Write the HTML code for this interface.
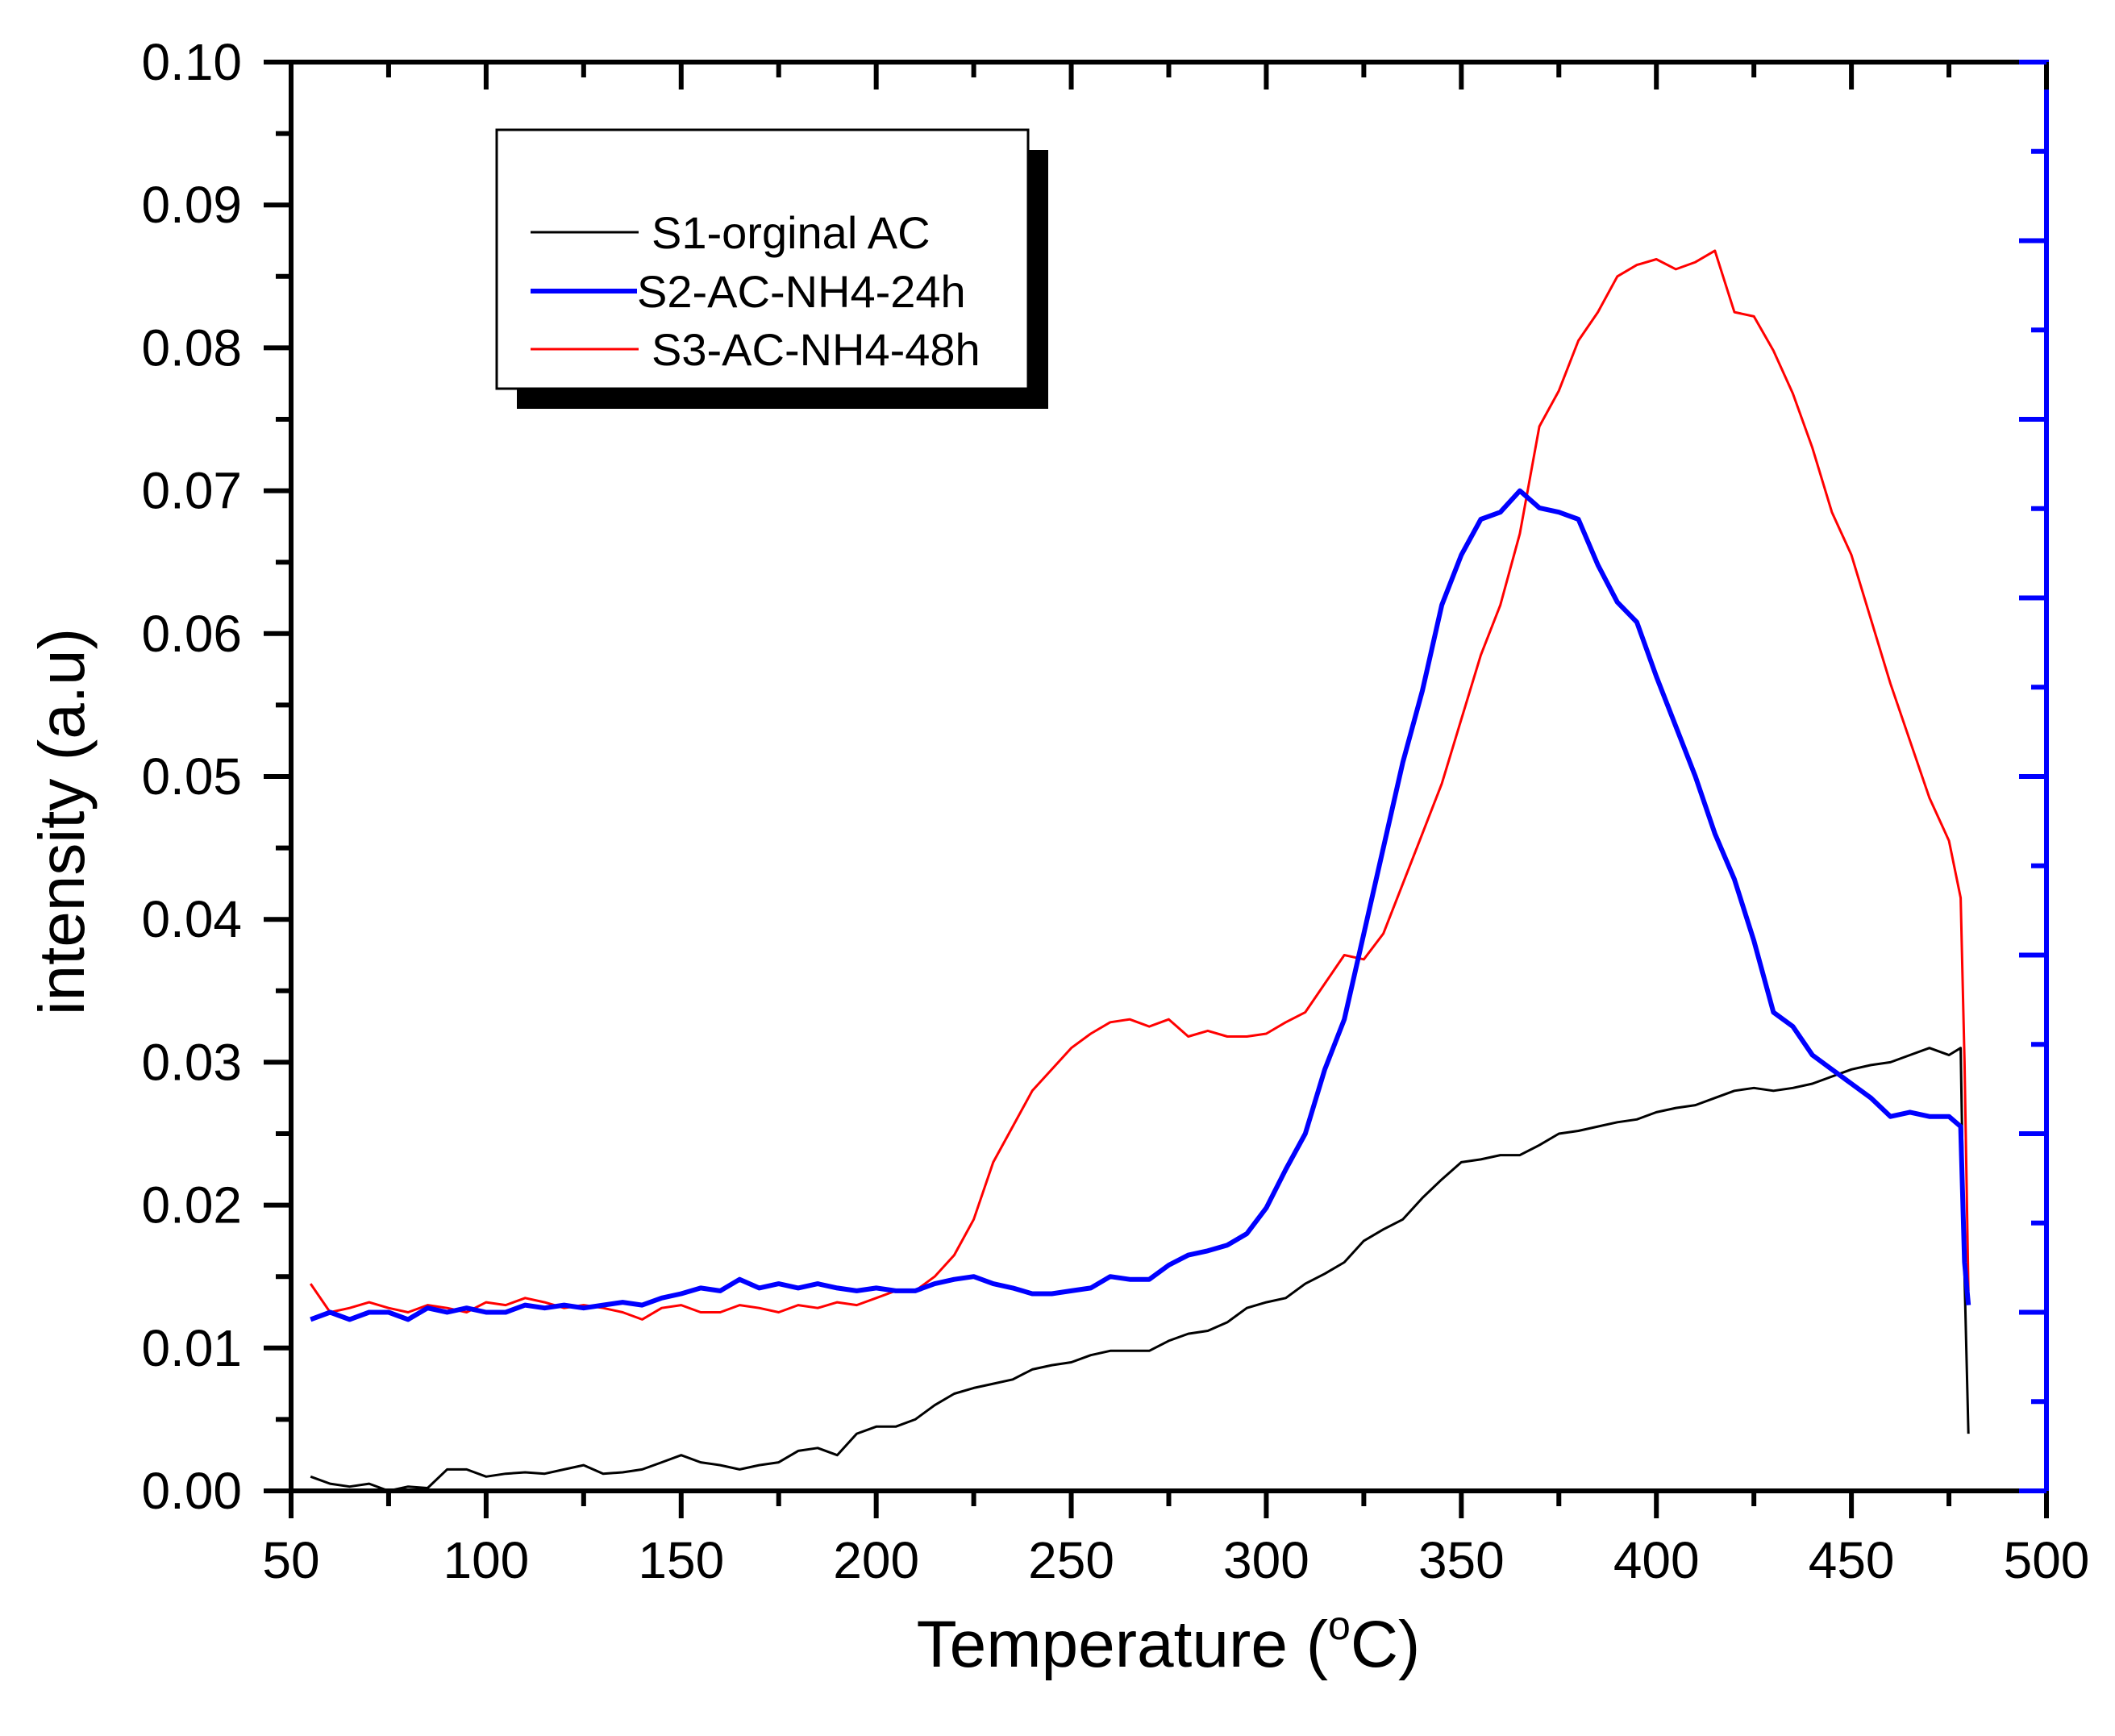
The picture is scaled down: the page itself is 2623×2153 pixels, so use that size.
<!DOCTYPE html>
<html><head><meta charset="utf-8"><style>
html,body{margin:0;padding:0;background:#fff;}
svg{display:block;font-family:"Liberation Sans",Arial,sans-serif;}
</style></head><body>
<svg id="chart" width="2623" height="2153" viewBox="0 0 2623 2153" xmlns="http://www.w3.org/2000/svg">
<g id="marks"></g>
<g id="axes"></g>
<g id="legend">
  <rect x="641" y="186" width="659" height="321" fill="#000"/>
  <rect x="616" y="161" width="659" height="321" fill="#fff" stroke="#000" stroke-width="3"/>
  <line x1="658" y1="288" x2="792" y2="288" stroke="#000" stroke-width="3"/>
  <text x="808" y="308" font-size="56">S1-orginal AC</text>
  <line x1="658" y1="361" x2="790" y2="361" stroke="#0000ff" stroke-width="6"/>
  <text x="790" y="381" font-size="56">S2-AC-NH4-24h</text>
  <line x1="658" y1="433" x2="792" y2="433" stroke="#ff0000" stroke-width="3"/>
  <text x="808" y="453" font-size="56">S3-AC-NH4-48h</text>
</g>
<text x="1449" y="2067" font-size="82" text-anchor="middle">Temperature (<tspan font-size="50" dy="-34">o</tspan><tspan dy="34">C)</tspan></text>
<text transform="translate(104,1019) rotate(-90)" font-size="80" text-anchor="middle">intensity (a.u)</text>
</svg>
<script>
const xTicks=[50,100,150,200,250,300,350,400,450,500];
const yTicks=[0,0.01,0.02,0.03,0.04,0.05,0.06,0.07,0.08,0.09,0.10];
const temps=[55,60,65,70,75,80,85,90,95,100,105,110,115,120,125,130,135,140,145,150,155,160,165,170,175,180,185,190,195,200,205,210,215,220,225,230,235,240,245,250,255,260,265,270,275,280,285,290,295,300,305,310,315,320,325,330,335,340,345,350,355,360,365,370,375,380,385,390,395,400,405,410,415,420,425,430,435,440,445,450,455,460,465,470,475,478,479,480];
const s1=[0.001,0.0005,0.0003,0.0005,0,0.0003,0.0002,0.0015,0.0015,0.001,0.0012,0.0013,0.0012,0.0015,0.0018,0.0012,0.0013,0.0015,0.002,0.0025,0.002,0.0018,0.0015,0.0018,0.002,0.0028,0.003,0.0025,0.004,0.0045,0.0045,0.005,0.006,0.0068,0.0072,0.0075,0.0078,0.0085,0.0088,0.009,0.0095,0.0098,0.0098,0.0098,0.0105,0.011,0.0112,0.0118,0.0128,0.0132,0.0135,0.0145,0.0152,0.016,0.0175,0.0183,0.019,0.0205,0.0218,0.023,0.0232,0.0235,0.0235,0.0242,0.025,0.0252,0.0255,0.0258,0.026,0.0265,0.0268,0.027,0.0275,0.028,0.0282,0.028,0.0282,0.0285,0.029,0.0295,0.0298,0.03,0.0305,0.031,0.0305,0.031,0.015,0.004];
const s2=[0.012,0.0125,0.012,0.0125,0.0125,0.012,0.0128,0.0125,0.0128,0.0125,0.0125,0.013,0.0128,0.013,0.0128,0.013,0.0132,0.013,0.0135,0.0138,0.0142,0.014,0.0148,0.0142,0.0145,0.0142,0.0145,0.0142,0.014,0.0142,0.014,0.014,0.0145,0.0148,0.015,0.0145,0.0142,0.0138,0.0138,0.014,0.0142,0.015,0.0148,0.0148,0.0158,0.0165,0.0168,0.0172,0.018,0.0198,0.0225,0.025,0.0295,0.033,0.039,0.045,0.051,0.056,0.062,0.0655,0.068,0.0685,0.07,0.0688,0.0685,0.068,0.0648,0.0622,0.0608,0.057,0.0535,0.05,0.046,0.0428,0.0385,0.0335,0.0325,0.0305,0.0295,0.0285,0.0275,0.0262,0.0265,0.0262,0.0262,0.0255,0.016,0.013];
const s3=[0.0145,0.0125,0.0128,0.0132,0.0128,0.0125,0.013,0.0128,0.0125,0.0132,0.013,0.0135,0.0132,0.0128,0.013,0.0128,0.0125,0.012,0.0128,0.013,0.0125,0.0125,0.013,0.0128,0.0125,0.013,0.0128,0.0132,0.013,0.0135,0.014,0.014,0.015,0.0165,0.019,0.023,0.0255,0.028,0.0295,0.031,0.032,0.0328,0.033,0.0325,0.033,0.0318,0.0322,0.0318,0.0318,0.032,0.0328,0.0335,0.0355,0.0375,0.0372,0.039,0.0425,0.046,0.0495,0.054,0.0585,0.062,0.067,0.0745,0.077,0.0805,0.0825,0.085,0.0858,0.0862,0.0855,0.086,0.0868,0.0825,0.0822,0.0798,0.0768,0.073,0.0685,0.0655,0.061,0.0565,0.0525,0.0485,0.0455,0.0415,0.03,0.014];

const L=361,R=2538,T=77,B=1849;
const sx=v=>L+(v-50)/450*(R-L);
const sy=v=>B-v/0.10*(B-T);
const NS="http://www.w3.org/2000/svg";
function mk(tag,attrs,parent){const e=document.createElementNS(NS,tag);for(const k in attrs)e.setAttribute(k,attrs[k]);parent.appendChild(e);return e;}
const marks=document.getElementById('marks'),axes=document.getElementById('axes');
function series(arr,color,w,name){
  const d=temps.map((t,i)=>(i?'L':'M')+sx(t).toFixed(1)+' '+sy(arr[i]).toFixed(1)).join(' ');
  const p=mk('path',{d:d,fill:'none',stroke:color,'stroke-width':w,'stroke-linejoin':'round'},marks);
  
  
}
series(s1,'#000',3,'series-s1-line');
series(s3,'#ff0000',3,'series-s3-line');
series(s2,'#0000ff',6,'series-s2-line');

mk('line',{x1:L,y1:T,x2:L,y2:B+3,stroke:'#000','stroke-width':6},axes);
mk('line',{x1:L-3,y1:B,x2:R,y2:B,stroke:'#000','stroke-width':6},axes);
mk('line',{x1:L-3,y1:T,x2:R,y2:T,stroke:'#000','stroke-width':6},axes);
const ra=mk('line',{x1:R,y1:T-3,x2:R,y2:B+3,stroke:'#0000ff','stroke-width':6},axes);


xTicks.forEach((v,i)=>{
  mk('line',{x1:sx(v),y1:B,x2:sx(v),y2:B+34,stroke:'#000','stroke-width':6},axes);
  mk('line',{x1:sx(v),y1:T,x2:sx(v),y2:T+34,stroke:'#000','stroke-width':6},axes);
  if(i<xTicks.length-1){const m=v+25;
    mk('line',{x1:sx(m),y1:B,x2:sx(m),y2:B+19,stroke:'#000','stroke-width':6},axes);
    mk('line',{x1:sx(m),y1:T,x2:sx(m),y2:T+19,stroke:'#000','stroke-width':6},axes);}
  const t=mk('text',{x:sx(v),y:1957,'font-size':64,'text-anchor':'middle'},axes);
  t.textContent=v;
  
  
});
yTicks.forEach((v,i)=>{
  mk('line',{x1:L-34,y1:sy(v),x2:L,y2:sy(v),stroke:'#000','stroke-width':6},axes);
  if(i<yTicks.length-1){const m=v+0.005;
    mk('line',{x1:L-19,y1:sy(m),x2:L,y2:sy(m),stroke:'#000','stroke-width':6},axes);}
  const t=mk('text',{x:300,y:sy(v)+22,'font-size':64,'text-anchor':'end'},axes);
  t.textContent=v.toFixed(2);
  
  
});
for(let i=0;i<=16;i++){
  const y=T+i*(B-T)/16;
  const len=(i%2===0)?34:19;
  mk('line',{x1:R-len,y1:y,x2:R,y2:y,stroke:'#0000ff','stroke-width':6},axes);
}
</script>
</body></html>
